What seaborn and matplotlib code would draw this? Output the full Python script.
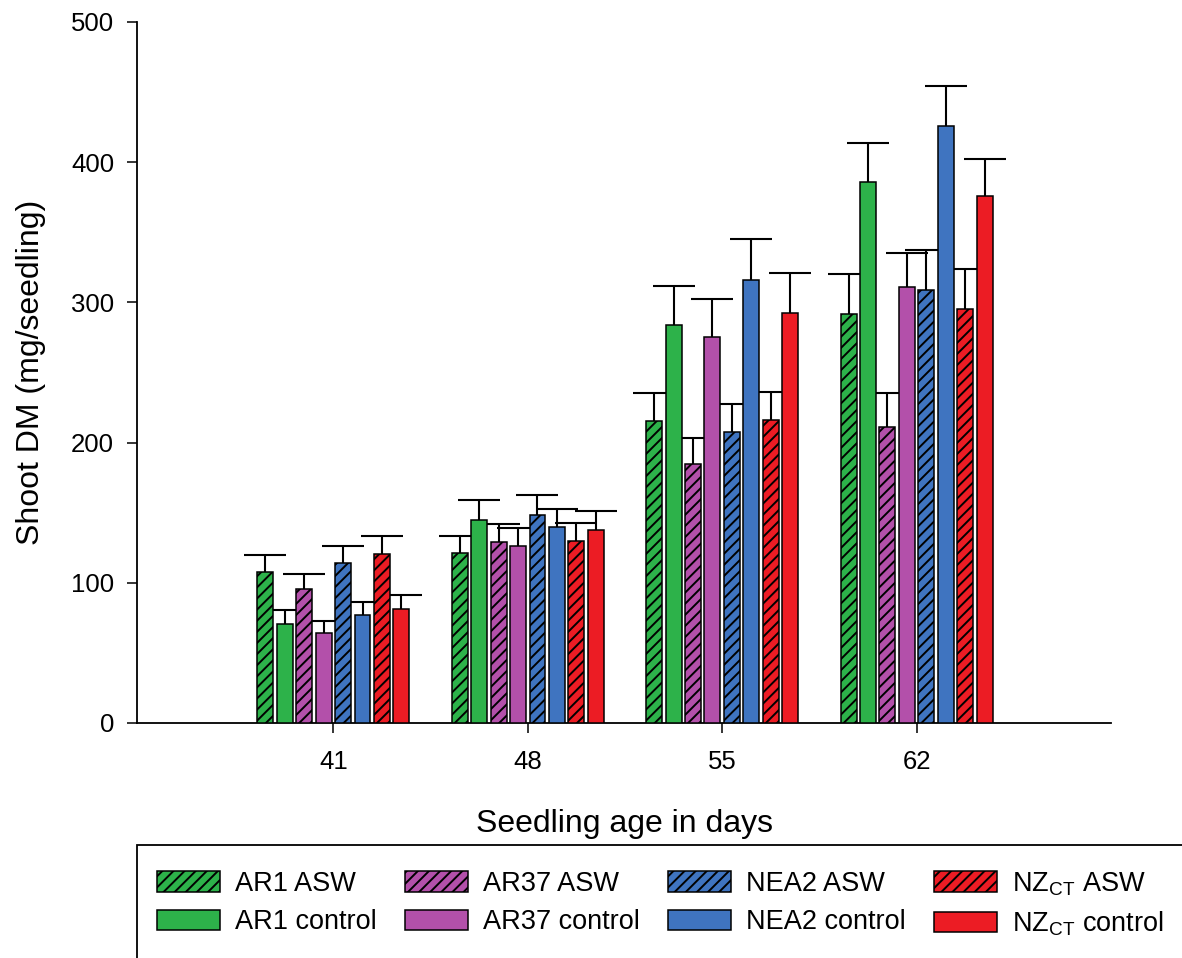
import matplotlib
matplotlib.use("Agg")
import matplotlib.pyplot as plt
from matplotlib.patches import Patch, Rectangle
import numpy as np
import pandas as pd
import seaborn as sns

# Seedling ages (x categories)
days = ["41", "48", "55", "62"]

# Series labels and colours
series = ["AR1 ASW", "AR1 control", "AR37 ASW", "AR37 control",
          "NEA2 ASW", "NEA2 control", "NZCT ASW", "NZCT control"]
legend_labels = ["AR1 ASW", "AR1 control", "AR37 ASW", "AR37 control",
                 "NEA2 ASW", "NEA2 control",
                 r"NZ$_{\mathregular{CT}}$ ASW", r"NZ$_{\mathregular{CT}}$ control"]
colors = ["#2DB24A", "#2DB24A", "#B350AA", "#B350AA",
          "#3F74C0", "#3F74C0", "#EC1C24", "#EC1C24"]

# Shoot dry matter means (mg/seedling) and standard errors per series
ar1_asw = [107.5, 121.0, 215.4, 291.8]
ar1_asw_se = [12.1, 12.4, 19.8, 28.6]
ar1_ctrl = [70.6, 144.8, 283.6, 385.8]
ar1_ctrl_se = [9.8, 14.0, 28.1, 27.6]
ar37_asw = [95.3, 129.1, 184.7, 211.4]
ar37_asw_se = [11.2, 13.1, 18.3, 23.8]
ar37_ctrl = [64.0, 126.2, 275.5, 311.0]
ar37_ctrl_se = [8.8, 12.9, 26.9, 24.5]
nea2_asw = [114.4, 148.6, 207.8, 308.6]
nea2_asw_se = [12.1, 14.0, 20.0, 29.0]
nea2_ctrl = [77.0, 139.6, 316.0, 425.6]
nea2_ctrl_se = [9.5, 13.3, 29.2, 28.8]
nzct_asw = [120.5, 129.8, 215.9, 295.5]
nzct_asw_se = [12.7, 12.8, 20.1, 28.3]
nzct_ctrl = [81.3, 137.4, 292.2, 375.9]
nzct_ctrl_se = [10.3, 13.5, 28.7, 26.6]

means = [ar1_asw, ar1_ctrl, ar37_asw, ar37_ctrl,
         nea2_asw, nea2_ctrl, nzct_asw, nzct_ctrl]
errors = [ar1_asw_se, ar1_ctrl_se, ar37_asw_se, ar37_ctrl_se,
          nea2_asw_se, nea2_ctrl_se, nzct_asw_se, nzct_ctrl_se]

rows = []
for s, m, e in zip(series, means, errors):
    for d, v, se in zip(days, m, e):
        rows.append({"day": d, "series": s, "dm": v, "se": se})
df = pd.DataFrame(rows)

sns.set_style("ticks")
plt.rcParams["font.family"] = ["Liberation Sans", "DejaVu Sans"]
plt.rcParams["mathtext.fontset"] = "custom"
plt.rcParams["mathtext.rm"] = "Liberation Sans"
plt.rcParams["mathtext.it"] = "Liberation Sans:italic"
plt.rcParams["hatch.linewidth"] = 1.4
plt.rcParams["text.color"] = "black"
plt.rcParams["axes.labelcolor"] = "black"
plt.rcParams["axes.edgecolor"] = "black"

HATCH = "///"

fig = plt.figure(figsize=(11.82, 9.58), dpi=100)
ax = fig.add_axes([137 / 1182, 1 - 723 / 958, 974 / 1182, 701 / 958])

sns.barplot(data=df, x="day", y="dm", hue="series", hue_order=series,
            order=days, palette=colors, saturation=1, width=0.8, gap=0.18,
            errorbar=None, edgecolor="black", linewidth=1.1,
            legend=False, ax=ax, zorder=3)

# Hatch the ASW-treated series and add upper standard-error whiskers
bar_containers = list(ax.containers)
for i, cont in enumerate(bar_containers):
    hatched = series[i].endswith("ASW")
    xs = []
    for bar in cont:
        bar.set_zorder(3)
        if hatched:
            bar.set_hatch(HATCH)
        xs.append(bar.get_x() + bar.get_width() / 2)
    eb = ax.errorbar(xs, means[i], yerr=[np.zeros(len(xs)), errors[i]],
                     fmt="none", ecolor="black", elinewidth=1.5,
                     capsize=15, capthick=1.5, zorder=2)
    # only the upper whisker carries a cap
    caps = eb.lines[1]
    if len(caps) > 1:
        caps[0].set_visible(False)

ax.set_xlim(-1.01, 4.0)
ax.set_ylim(0, 500)
ax.set_yticks([0, 100, 200, 300, 400, 500])
sns.despine(ax=ax)
for sp in ["left", "bottom"]:
    ax.spines[sp].set_linewidth(1.3)
ax.tick_params(axis="both", direction="out", length=7.5, width=1.1,
               labelsize=18.5, colors="black")
ax.tick_params(axis="x", pad=12)
ax.tick_params(axis="y", pad=9)

ax.set_xlabel("Seedling age in days", fontsize=23)
ax.set_ylabel("Shoot DM (mg/seedling)", fontsize=23)
ax.xaxis.set_label_coords(0.5, -0.122)
ax.yaxis.set_label_coords(-0.093, 0.5)

# Legend with a framed box along the bottom edge
handles = [Patch(facecolor=c, edgecolor="black", linewidth=1.1,
                 hatch=HATCH if s.endswith("ASW") else None)
           for s, c in zip(series, colors)]
fig.legend(handles, legend_labels, ncol=4, frameon=False, fontsize=19.5,
           loc="upper left", bbox_to_anchor=(157 / 1182, 1 - 870 / 958),
           borderpad=0, borderaxespad=0, handlelength=2.32,
           handleheight=0.775, handletextpad=0.55, columnspacing=1.05,
           labelspacing=0.45)
fig.patches.append(Rectangle((137 / 1182, -0.2), 1.0, 0.2 + 1 - 845 / 958,
                             transform=fig.transFigure, fill=False,
                             edgecolor="black", linewidth=1.3,
                             clip_on=False))

fig.savefig("out.png", dpi=100)
